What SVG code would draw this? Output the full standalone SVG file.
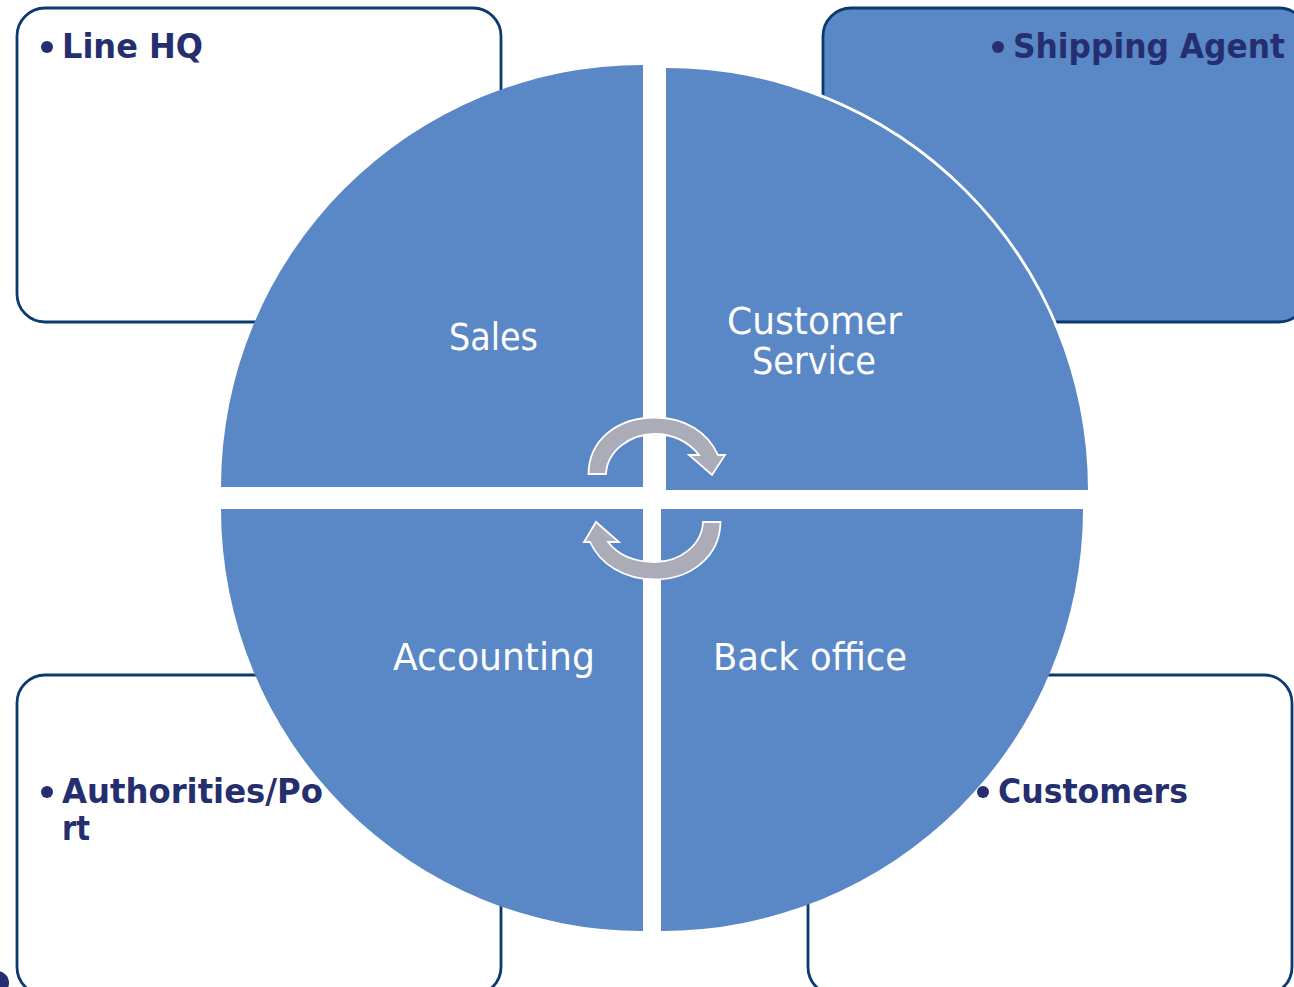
<svg xmlns="http://www.w3.org/2000/svg" width="1294" height="987" viewBox="0 0 1294 987">
<style>
.box{fill:#fff;stroke:#0a3a6e;stroke-width:2.8}
.q{fill:#5a87c6}
.arr{fill:#abacb8;stroke:#fff;stroke-width:1.8}
.h{font-family:"DejaVu Sans","Liberation Sans",sans-serif;font-weight:700;font-size:34px;fill:#252e6e}
.l{font-family:"DejaVu Sans","Liberation Sans",sans-serif;font-size:37px;fill:#fff}
.b{fill:#252e6e}
</style>
<rect width="1294" height="987" fill="#fff"/>
<g id="node-line-hq"><rect class="box" x="17" y="8" width="484" height="314" rx="28"/><circle class="b" cx="47" cy="47" r="6"/><text class="h" x="62" y="58" textLength="141" lengthAdjust="spacingAndGlyphs">Line HQ</text></g>
<g id="node-shipping-agent"><rect class="box" style="fill:#5a87c6" x="823" y="8" width="484" height="314" rx="28"/><circle class="b" cx="998" cy="47" r="6"/><text class="h" x="1013" y="58" textLength="272" lengthAdjust="spacingAndGlyphs">Shipping Agent</text></g>
<g id="node-authorities"><rect class="box" x="17" y="675" width="484" height="320" rx="28"/><circle class="b" cx="47" cy="792" r="6"/><text class="h" x="62" y="803" textLength="261" lengthAdjust="spacingAndGlyphs">Authorities/Po</text><text class="h" x="62" y="840" textLength="28" lengthAdjust="spacingAndGlyphs">rt</text></g>
<g id="node-customers"><rect class="box" x="808" y="675" width="484" height="320" rx="28"/><circle class="b" cx="983" cy="792" r="6"/><text class="h" x="998" y="803" textLength="190" lengthAdjust="spacingAndGlyphs">Customers</text></g>
<circle cx="-3" cy="983" r="12" fill="#252e6e"/>
<g id="node-sales"><path class="q" d="M643 487H221A422 422 0 0 1 643 65Z"/><text class="l" x="449" y="350" textLength="89" lengthAdjust="spacingAndGlyphs">Sales</text></g>
<g id="node-customer-service"><path fill="none" stroke="#fff" stroke-width="3" d="M666 66.500A423.500 423.500 0 0 1 1089.500 490"/><path class="q" d="M666 490V68A422 422 0 0 1 1088 490Z"/><text class="l" x="727" y="334" textLength="175" lengthAdjust="spacingAndGlyphs">Customer</text><text class="l" x="752" y="374" textLength="124" lengthAdjust="spacingAndGlyphs">Service</text></g>
<g id="node-back-office"><path class="q" d="M661 509H1083A422 422 0 0 1 661 931Z"/><text class="l" x="713" y="670" textLength="194" lengthAdjust="spacingAndGlyphs">Back office</text></g>
<g id="node-accounting"><path class="q" d="M643 509V931A422 422 0 0 1 221 509Z"/><text class="l" x="393" y="670" textLength="202" lengthAdjust="spacingAndGlyphs">Accounting</text></g>
<g id="connectors">
<path class="arr" d="M588.500 474C589 439 618 417.500 655 417.500C686 417.500 708 433 718 455L725 455L712 475L689 455L699 455C689 442 673 434 655 434C630 434 607 451 606 474Z"/>
<path class="arr" d="M720.500 522C720 557 690 579.500 655 579.500C624 579.500 600 564 590 542L584 542L596 522L619 542L608 542C618 555 635 562 655 562C680 562 702 545 703 522Z"/>
</g>
</svg>
